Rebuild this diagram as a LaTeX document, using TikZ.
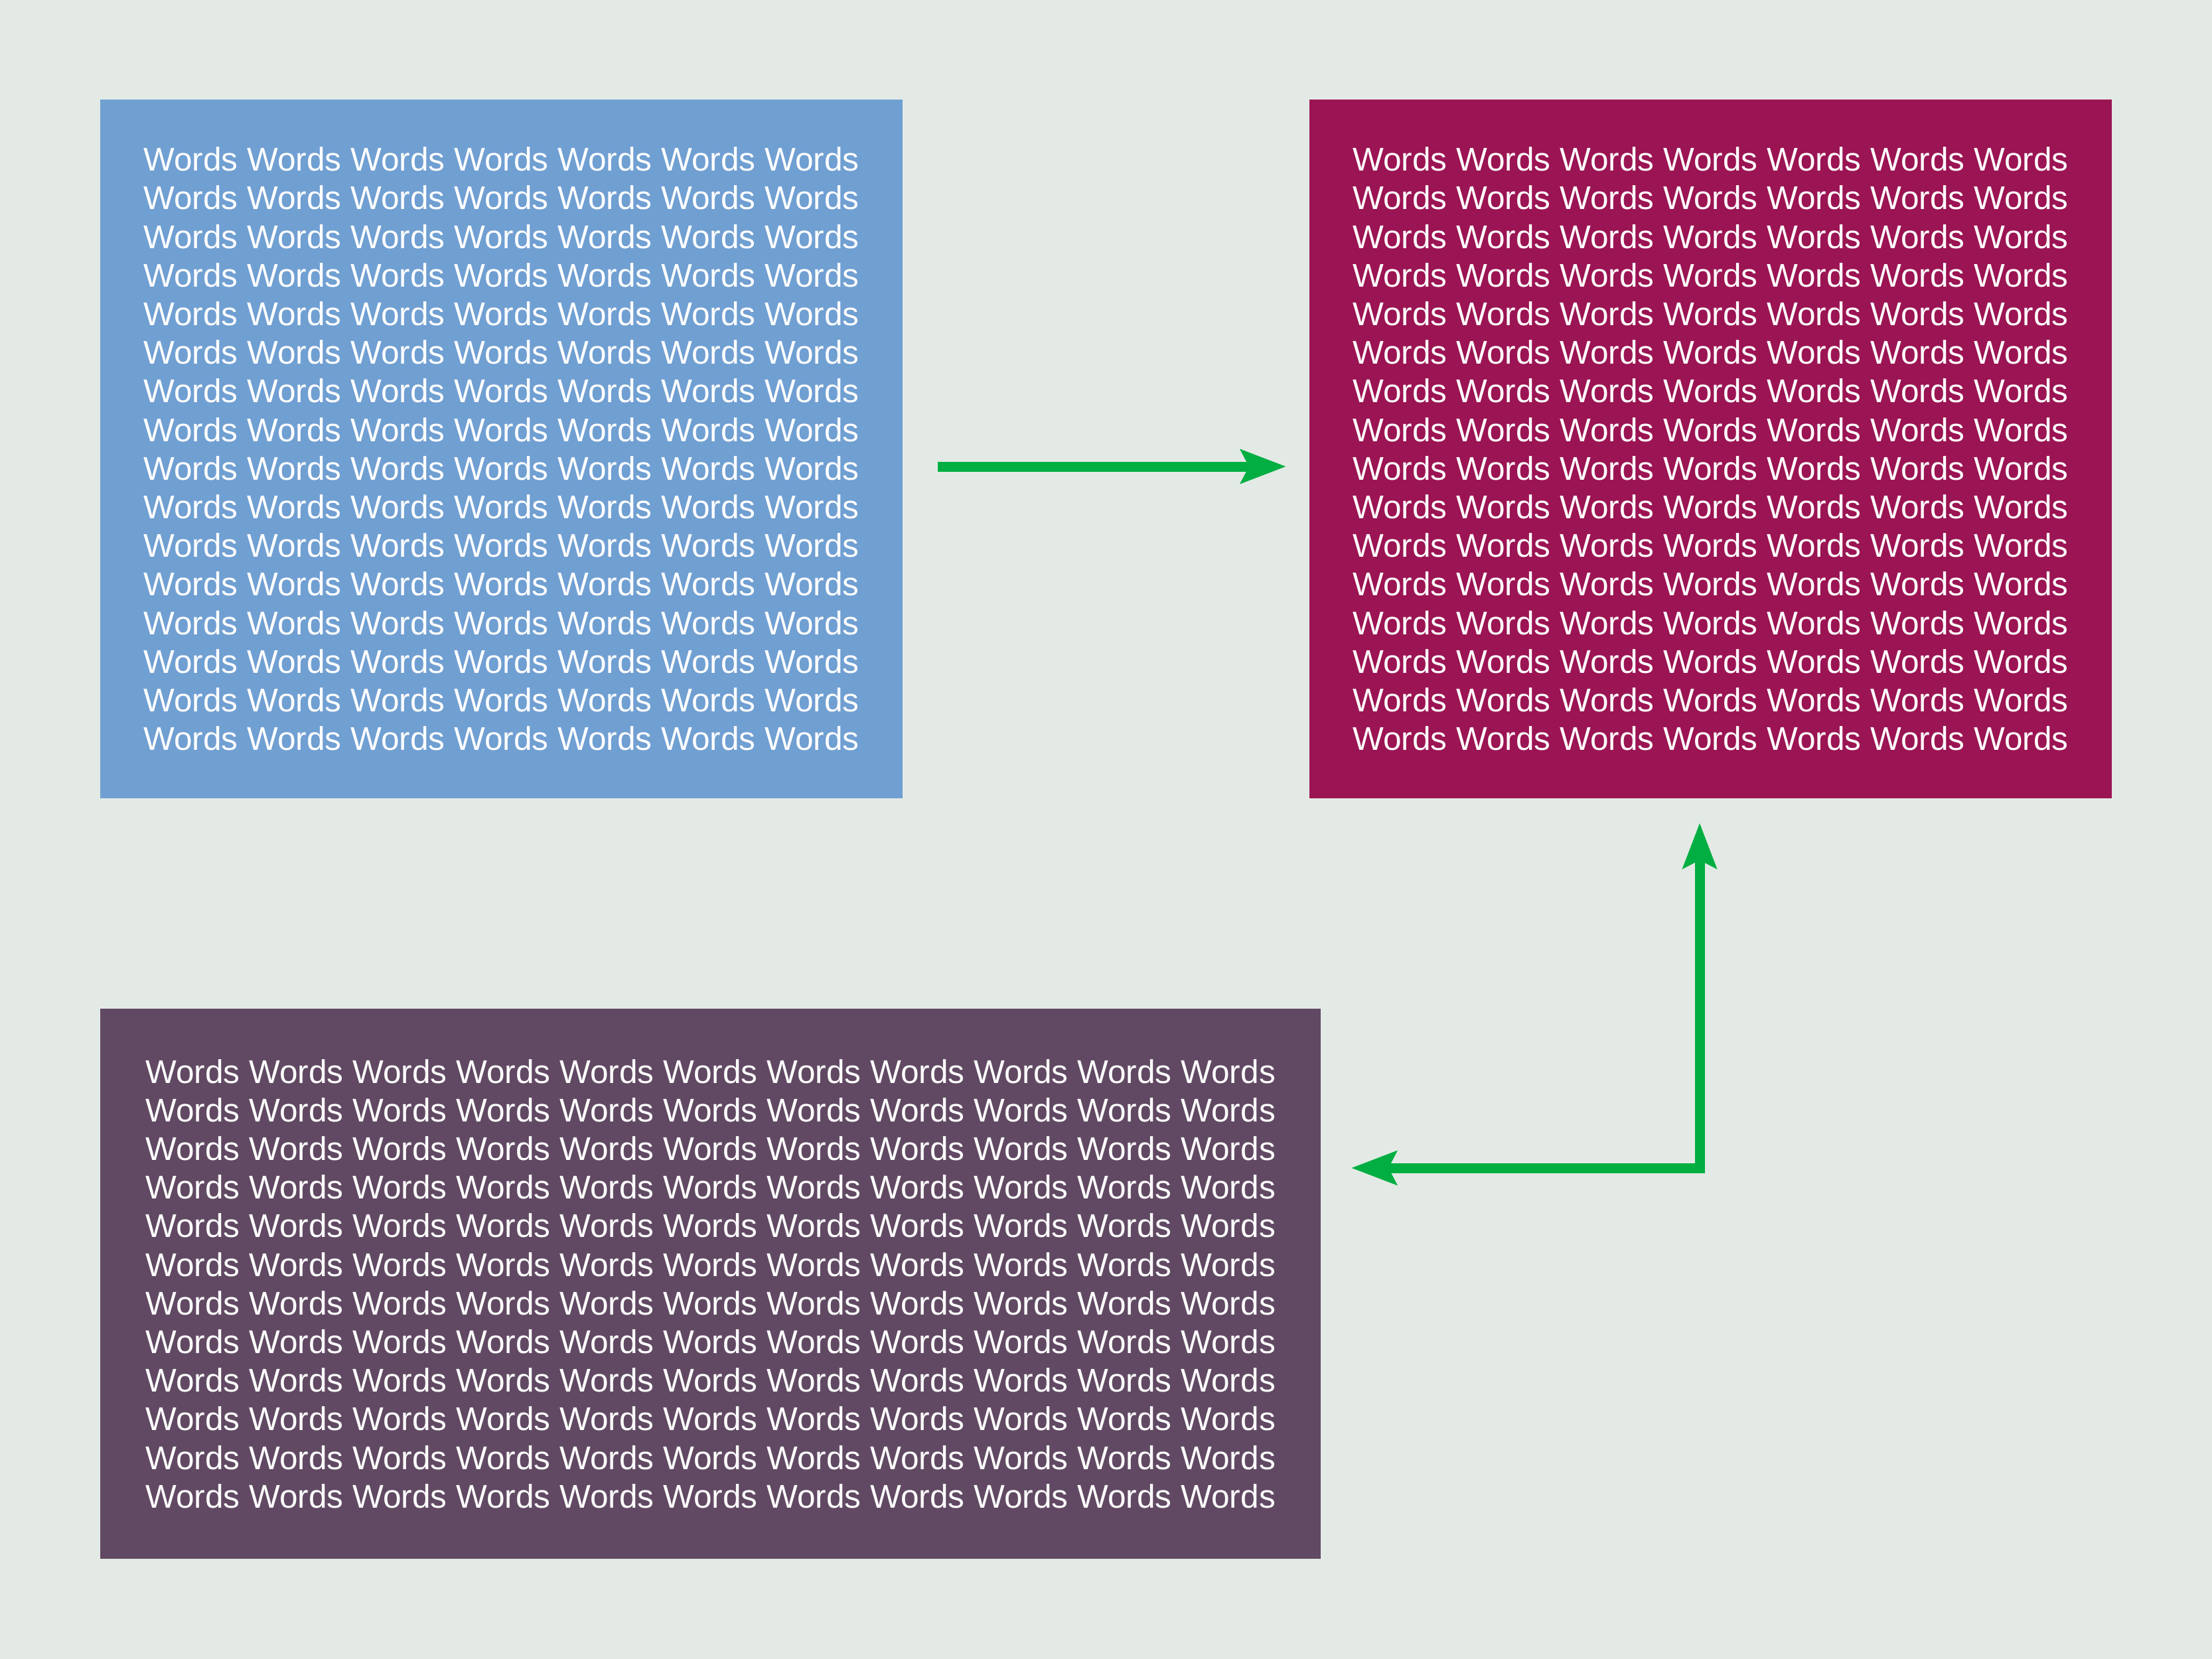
\documentclass[tikz,border=0pt]{standalone}
\usepackage{fontspec}
\setmainfont{Liberation Sans}
\usepackage{xcolor}
\usetikzlibrary{positioning,arrows.meta}

\definecolor{paper}{HTML}{E3EAE5}
\definecolor{boxblue}{HTML}{709FD2}
\definecolor{boxwine}{HTML}{9B1453}
\definecolor{boxplum}{HTML}{614963}
\definecolor{flowgreen}{HTML}{00AE42}

\newcommand{\sevenwords}{Words Words Words Words Words Words Words}
\newcommand{\elevenwords}{Words Words Words Words Words Words Words Words Words Words Words}
\newcommand{\sevenblock}{\sevenwords\\\sevenwords\\\sevenwords\\\sevenwords}
\newcommand{\elevenblock}{\elevenwords\\\elevenwords\\\elevenwords\\\elevenwords}

\tikzset{
  >={Stealth[length=0.68cm, width=0.5cm, inset=0.12cm]},
  wordbox/.style={inner sep=0pt, outer sep=0pt, align=left, text=white!95!paper,
    font=\fontsize{14.1pt}{16.56pt}\selectfont},
  flow/.style={draw=flowgreen, line width=0.15cm, line join=miter}
}

\begin{document}
\begin{tikzpicture}
            \fill[paper] (0,0) rectangle (33.33,-25);
            \useasboundingbox (0,0) rectangle (33.33,-25);
            % the three boxes
            \node[wordbox, fill=boxblue, minimum width=12.09cm, minimum height=10.53cm,
                anchor=north west] (boxA) at (1.51,-1.50)
                {\sevenblock\\\sevenblock\\\sevenblock\\\sevenblock};
            \node[wordbox, fill=boxwine, minimum width=12.09cm, minimum height=10.53cm,
                right=6.13cm of boxA] (boxB)
                {\sevenblock\\\sevenblock\\\sevenblock\\\sevenblock};
            \node[wordbox, fill=boxplum, minimum width=18.39cm, minimum height=8.29cm,
                below=3.17cm of boxA.south west, anchor=north west] (boxC)
                {\elevenblock\\\elevenblock\\\elevenblock};
            % arrows
            \draw[flow, ->] ([shift={(0.53,-0.265)}]boxA.east) -- ([shift={(-0.35,-0.265)}]boxB.west);
            \draw[flow, <->]
                ([shift={(0.46,1.745)}]boxC.east) -| ([shift={(-0.165,-0.37)}]boxB.south);
        \end{tikzpicture}
\end{document}
